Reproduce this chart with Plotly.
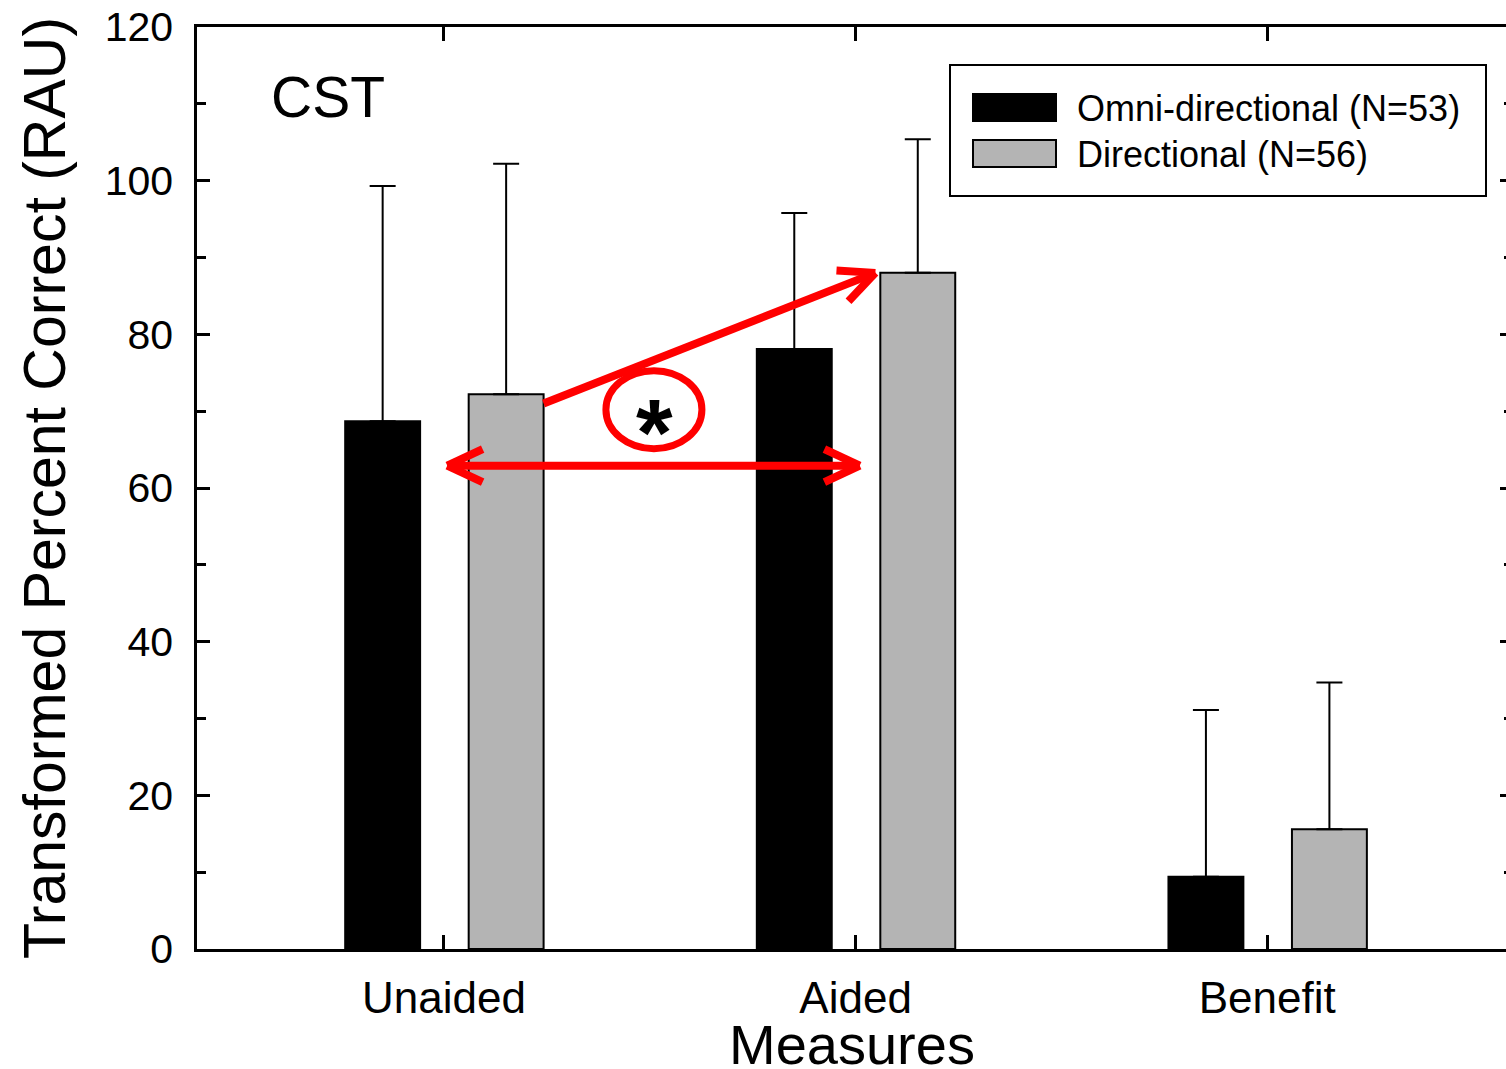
import math
import plotly.graph_objects as go

# ---------------- data ----------------
categories = ["Unaided", "Aided", "Benefit"]
omni_mean = [68.7, 78.1, 9.4]
omni_sd = [30.6, 17.7, 21.7]
dir_mean = [72.2, 88.0, 15.6]
dir_sd = [30.0, 17.4, 19.1]
series_names = ["Omni-directional (N=53)", "Directional (N=56)"]
y_ticks = [0, 20, 40, 60, 80, 100, 120]

# ---------------- layout constants ----------------
W, H = 1506, 1069
ML, MR, MT, MB = 197, 0, 27, 120
XR = [-0.6, 2.58]
YR = [0, 120]
PW = W - ML - MR
PH = H - MT - MB
FONT = "Liberation Sans, Arial, sans-serif"
BAR_W = 0.182
OMNI_OFF = -0.24
DIR_OFF = 0.06
GREY = "#b4b4b4"
RED = "#ff0000"

px_x = PW / (XR[1] - XR[0])
px_y = PH / (YR[1] - YR[0])


def px2paper_x(px):
    return (px - ML) / PW


def px2paper_y(py):
    return (H - MB - py) / PH


xpos = list(range(len(categories)))

fig = go.Figure()
fig.add_trace(go.Bar(
    x=xpos, y=omni_mean, name=series_names[0], width=BAR_W, offset=OMNI_OFF,
    marker=dict(color="black", line=dict(color="black", width=2)),
    error_y=dict(type="data", symmetric=False, array=omni_sd, arrayminus=[0] * 3,
                 color="black", thickness=2, width=13),
    showlegend=False,
))
fig.add_trace(go.Bar(
    x=xpos, y=dir_mean, name=series_names[1], width=BAR_W, offset=DIR_OFF,
    marker=dict(color=GREY, line=dict(color="black", width=2)),
    error_y=dict(type="data", symmetric=False, array=dir_sd, arrayminus=[0] * 3,
                 color="black", thickness=2, width=13),
    showlegend=False,
))
# invisible trace to activate right-hand tick axis
fig.add_trace(go.Scatter(x=xpos, y=dir_mean, yaxis="y2", mode="markers",
                         marker=dict(opacity=0), hoverinfo="skip", showlegend=False))

shapes = []
annotations = []

# ---------- manual legend ----------
shapes.append(dict(type="rect", xref="paper", yref="paper",
                   x0=px2paper_x(950), x1=px2paper_x(1486),
                   y0=px2paper_y(196), y1=px2paper_y(65),
                   line=dict(color="black", width=2), fillcolor="white", layer="above"))
for i, (name, col) in enumerate(zip(series_names, ["black", GREY])):
    top = 94 + i * 46
    shapes.append(dict(type="rect", xref="paper", yref="paper",
                       x0=px2paper_x(973), x1=px2paper_x(1056),
                       y0=px2paper_y(top + 27), y1=px2paper_y(top),
                       line=dict(color="black", width=2), fillcolor=col, layer="above"))
    annotations.append(dict(xref="paper", yref="paper", x=px2paper_x(1075),
                            y=px2paper_y(top + 14), text=name, showarrow=False,
                            xanchor="left", yanchor="middle",
                            font=dict(family=FONT, size=36, color="black")))

# CST label
annotations.append(dict(xref="paper", yref="paper", x=px2paper_x(269), y=px2paper_y(97),
                        text="CST", showarrow=False, xanchor="left", yanchor="middle",
                        font=dict(family=FONT, size=57, color="black")))

# x-axis title (placed as annotation for exact position)
annotations.append(dict(xref="paper", yref="paper", x=0.5, y=px2paper_y(1044),
                        text="Measures", showarrow=False, xanchor="center", yanchor="middle",
                        font=dict(family=FONT, size=56, color="black")))


# ---------- red significance marks ----------
def red_line(x0, y0, x1, y1, w=8):
    shapes.append(dict(type="line", xref="x", yref="y", x0=x0, y0=y0, x1=x1, y1=y1,
                       line=dict(color=RED, width=w), layer="above"))


def chevron(xt, yt, xfrom, yfrom, arm_px=39, half_ang=25):
    dxp = (xfrom - xt) * px_x
    dyp = (yfrom - yt) * px_y
    ang = math.atan2(dyp, dxp)
    for s in (-1, 1):
        a = ang + s * math.radians(half_ang)
        ex = xt + arm_px * math.cos(a) / px_x
        ey = yt + arm_px * math.sin(a) / px_y
        red_line(xt, yt, ex, ey)


# diagonal arrow: Directional unaided -> Directional aided
x_start = xpos[0] + DIR_OFF + BAR_W
y_start = dir_mean[0] - 1.2
x_tip = xpos[1] + DIR_OFF - 0.012
y_tip = dir_mean[1]
red_line(x_start, y_start, x_tip, y_tip)
chevron(x_tip, y_tip, x_start, y_start)

# horizontal double arrow Unaided <-> Aided
y_h = 62.9
xl = xpos[0] + 0.008
xr = xpos[1] + 0.01
red_line(xl, y_h, xr, y_h)
chevron(xl, y_h, xr, y_h)
chevron(xr, y_h, xl, y_h)

# ellipse with asterisk
cx, cy = 0.51, 70.2
rx_px, ry_px = 48, 39
shapes.append(dict(type="circle", xref="x", yref="y",
                   x0=cx - rx_px / px_x, x1=cx + rx_px / px_x,
                   y0=cy - ry_px / px_y, y1=cy + ry_px / px_y,
                   line=dict(color=RED, width=7), layer="above"))
annotations.append(dict(xref="x", yref="y", x=cx + 0.002, y=cy - 3.0, text="<b>*</b>",
                        showarrow=False, xanchor="center", yanchor="middle",
                        font=dict(family=FONT, size=94, color="black")))

axis_common = dict(linecolor="black", linewidth=2.5, tickcolor="black", tickwidth=2.5,
                   showgrid=False, zeroline=False, automargin=False)

fig.update_layout(
    width=W, height=H,
    margin=dict(l=ML, r=MR, t=MT, b=MB, pad=0),
    paper_bgcolor="white", plot_bgcolor="white",
    barmode="group",
    showlegend=False,
    font=dict(family=FONT, color="black"),
    xaxis=dict(range=XR, tickvals=xpos, ticktext=categories, showline=True, mirror="ticks",
               ticks="inside", ticklen=14, tickfont=dict(size=44, family=FONT),
               ticklabelstandoff=8,
               **axis_common),
    yaxis=dict(range=YR, tickvals=y_ticks, showline=True, mirror=False,
               ticks="inside", ticklen=13, tickfont=dict(size=41, family=FONT),
               ticklabelstandoff=13,
               minor=dict(dtick=10, ticks="inside", ticklen=9, tickcolor="black", tickwidth=2.5),
               title=dict(text="Transformed Percent Correct (RAU)",
                          font=dict(size=59, family=FONT), standoff=20),
               **axis_common),
    yaxis2=dict(range=YR, tickvals=y_ticks, overlaying="y", side="right", anchor="x",
                showline=False, ticks="inside", ticklen=6, tickcolor="black", tickwidth=2.5,
                showticklabels=False, showgrid=False, zeroline=False, automargin=False,
                minor=dict(dtick=10, ticks="inside", ticklen=2, tickcolor="black", tickwidth=2.5)),
    shapes=shapes,
    annotations=annotations,
)

fig.write_html("out.html", config={"displayModeBar": False},
               post_script="document.body.style.margin='0';")
